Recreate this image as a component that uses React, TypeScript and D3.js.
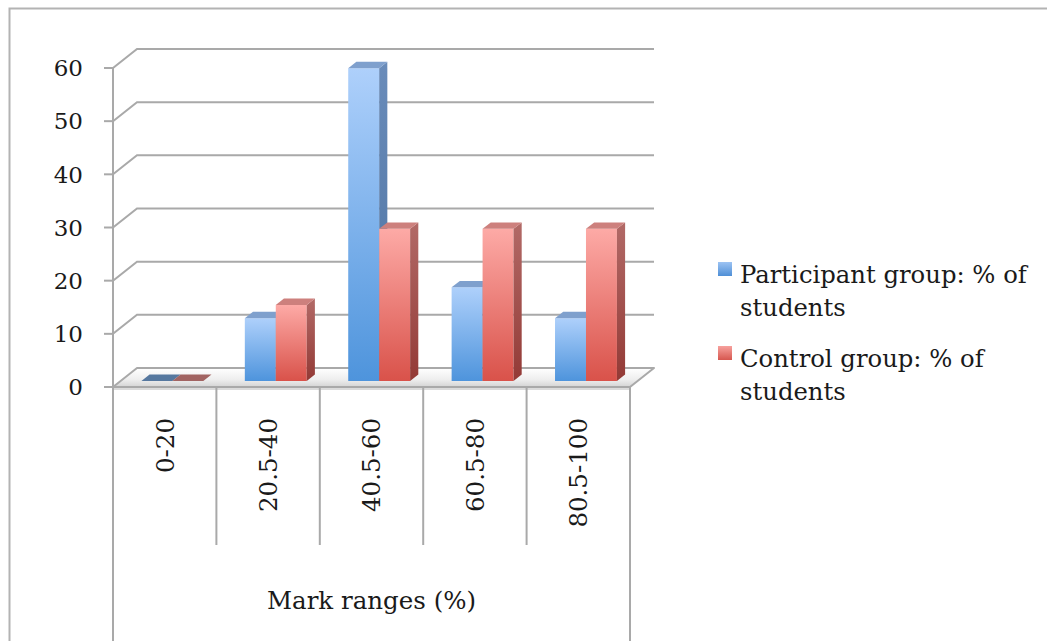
import React from "react";
import * as d3 from "d3";

// Mark ranges and group percentages
const categories = ["0-20", "20.5-40", "40.5-60", "60.5-80", "80.5-100"];
const participantPct = [0, 11.8, 58.8, 17.6, 11.8];
const controlPct = [0, 14.3, 28.6, 28.6, 28.6];
const yTicks = [0, 10, 20, 30, 40, 50, 60];
const seriesNames = ["Participant group: % of students", "Control group: % of students"];
const xAxisTitle = "Mark ranges (%)";

const W = 1047;
const H = 641;
const FONT = "'DejaVu Serif', serif";
const TEXT = "#1a1a1a";

// Plot geometry: front plane + depth vector
const frontLeft = 113;
const frontRight = 630;
const baseY = 387;
const depthDx = 24;
const depthDy = -19;

const x = d3.scaleBand<string>().domain(categories).range([frontLeft, frontRight]);
const y = d3.scaleLinear().domain([0, 60]).range([baseY, 68]);
const inner = d3.scaleBand<number>().domain([0, 1]).range([0, x.bandwidth()]).paddingOuter(0.67).paddingInner(0);

// Project a point (front x, value, depth fraction) to the screen
const P = (px: number, v: number, f: number): [number, number] => [px + f * depthDx, y(v) + f * depthDy];
const poly = (pts: [number, number][]) => pts.map((p) => p.join(",")).join(" ");

const barF0 = 0.32;
const barF1 = 0.66;

const palettes = [
  { frontTop: "#aed0fb", frontBot: "#4e94dc", side: "#6a8cba", sideBot: "#49709f", top: "#7fa0cd", flat: "#56789f", swatchA: "#9cc3f3", swatchB: "#4f8fd6" },
  { frontTop: "#fdaaa6", frontBot: "#d9524a", side: "#b26a67", sideBot: "#933a36", top: "#cd807d", flat: "#a26462", swatchA: "#f7a19d", swatchB: "#d6574f" },
];

function Bar({ cat, s, v }: { cat: string; s: number; v: number }) {
  const x0 = (x(cat) as number) + (inner(s) as number);
  const x1 = x0 + inner.bandwidth();
  const pal = palettes[s];
  if (v <= 0) {
    return (
      <polygon
        points={poly([P(x0, 0, barF0), P(x1, 0, barF0), P(x1, 0, barF1), P(x0, 0, barF1)])}
        fill={pal.flat}
      />
    );
  }
  return (
    <g>
      <polygon
        points={poly([P(x0, 0, barF0), P(x1, 0, barF0), P(x1, v, barF0), P(x0, v, barF0)])}
        fill={`url(#front${s})`}
      />
      <polygon
        points={poly([P(x1, 0, barF0), P(x1, 0, barF1), P(x1, v, barF1), P(x1, v, barF0)])}
        fill={`url(#side${s})`}
      />
      <polygon
        points={poly([P(x0, v, barF0), P(x1, v, barF0), P(x1, v, barF1), P(x0, v, barF1)])}
        fill={pal.top}
      />
    </g>
  );
}

export default function App() {
  const grid = "#a9a9a9";
  const floorPts = poly([P(frontLeft, 0, 0), P(frontLeft, 0, 1), P(frontRight, 0, 1), P(frontRight, 0, 0)]);
  const legendX = 718;
  const legendRows = [
    { sq: 262, lines: [283, 316] },
    { sq: 346, lines: [367, 400] },
  ];
  const legendLines = [
    ["Participant group: % of", "students"],
    ["Control group: % of", "students"],
  ];

  return (
    <svg width={W} height={H} style={{ position: "absolute", left: 0, top: 0 }} fontFamily={FONT}>
      <defs>
        {palettes.map((p, i) => (
          <React.Fragment key={i}>
            <linearGradient id={`front${i}`} x1="0" y1="0" x2="0" y2="1">
              <stop offset="0" stopColor={p.frontTop} />
              <stop offset="1" stopColor={p.frontBot} />
            </linearGradient>
            <linearGradient id={`side${i}`} x1="0" y1="0" x2="0" y2="1">
              <stop offset="0" stopColor={p.side} />
              <stop offset="1" stopColor={p.sideBot} />
            </linearGradient>
            <linearGradient id={`swatch${i}`} x1="0" y1="0" x2="0" y2="1">
              <stop offset="0" stopColor={p.swatchA} />
              <stop offset="1" stopColor={p.swatchB} />
            </linearGradient>
          </React.Fragment>
        ))}
        <linearGradient id="floorFill" x1="0" y1="0" x2="0" y2="1">
          <stop offset="0" stopColor="#ffffff" />
          <stop offset="0.6" stopColor="#eeeeee" />
          <stop offset="1" stopColor="#d4d4d4" />
        </linearGradient>
      </defs>

      <rect x={0} y={0} width={W} height={H} fill="#ffffff" />
      {/* outer frame */}
      <path d={`M9.5,${H + 5} V8.5 H${W + 5}`} fill="none" stroke="#b3b3b3" strokeWidth={2} />

      {/* back-wall gridlines with their diagonal side-wall returns */}
      {yTicks.filter((t) => t > 0).map((t) => {
        const a = P(frontLeft, t, 0);
        const b = P(frontLeft, t, 1);
        const c = P(frontRight, t, 1);
        return (
          <g key={t} stroke={grid} strokeWidth={2} fill="none">
            <polyline points={poly([a, b, c])} />
            <line x1={frontLeft - 9} x2={frontLeft} y1={a[1]} y2={a[1]} />
          </g>
        );
      })}
      <line x1={frontLeft - 9} x2={frontLeft} y1={y(0)} y2={y(0)} stroke={grid} strokeWidth={2} />

      {/* floor plate */}
      <polygon points={floorPts} fill="url(#floorFill)" stroke={grid} strokeWidth={2} strokeLinejoin="round" />
      <line x1={frontLeft} x2={frontRight} y1={baseY + 2} y2={baseY + 2} stroke="#cfcfcf" strokeWidth={1.5} />

      {/* vertical axis line */}
      <line x1={frontLeft} x2={frontLeft} y1={y(60)} y2={H + 5} stroke={grid} strokeWidth={2} />

      {/* bars */}
      {categories.map((c, i) => (
        <g key={c}>
          <Bar cat={c} s={0} v={participantPct[i]} />
          <Bar cat={c} s={1} v={controlPct[i]} />
        </g>
      ))}

      {/* y tick labels */}
      {yTicks.map((t) => (
        <text key={t} x={83} y={y(t)} dy="0.36em" textAnchor="end" fontSize={23} fill={TEXT}>
          {t}
        </text>
      ))}

      {/* category table below the floor */}
      {categories.map((c, i) => {
        const bx = (x(c) as number) + x.bandwidth();
        const last = i === categories.length - 1;
        return (
          <line key={c} x1={bx} x2={bx} y1={baseY} y2={last ? H + 5 : 545} stroke={grid} strokeWidth={2} />
        );
      })}
      {categories.map((c) => {
        const cx = (x(c) as number) + x.bandwidth() / 2;
        return (
          <text
            key={c}
            transform={`translate(${cx},418) rotate(-90)`}
            textAnchor="end"
            dy="0.36em"
            fontSize={24.5}
            fill={TEXT}
          >
            {c}
          </text>
        );
      })}
      <text x={(frontLeft + frontRight) / 2} y={609} textAnchor="middle" fontSize={24.5} fill={TEXT}>
        {xAxisTitle}
      </text>

      {/* legend */}
      {legendRows.map((r, i) => (
        <g key={seriesNames[i]}>
          <rect x={legendX} y={r.sq} width={14} height={14} fill={`url(#swatch${i})`} />
          {legendLines[i].map((ln, j) => (
            <text key={j} x={740} y={r.lines[j]} fontSize={24.3} fill={TEXT}>
              {ln}
            </text>
          ))}
        </g>
      ))}
    </svg>
  );
}
